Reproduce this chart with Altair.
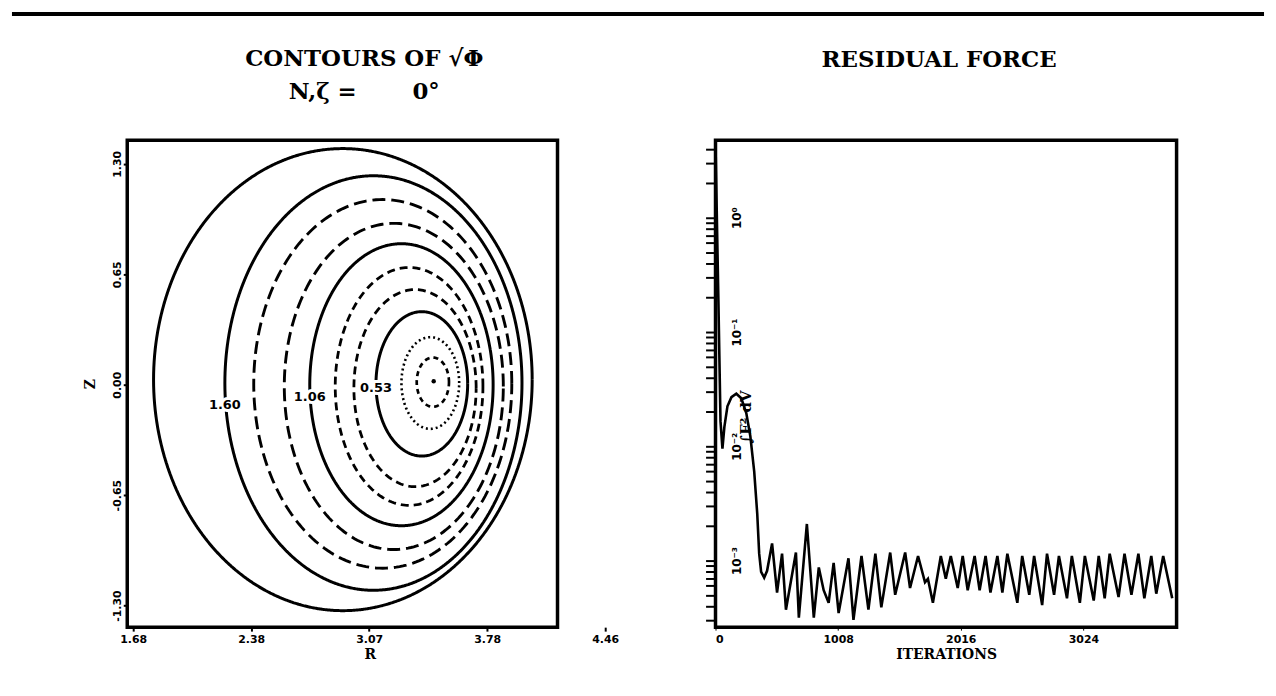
import altair as alt
import numpy as np
import pandas as pd

# ---------------- left panel: contours of sqrt(phi) ----------------
ring_level  = [1.77, 1.60, 1.42, 1.24, 1.06, 0.88, 0.71, 0.53, 0.35, 0.18]
ring_style  = ["solid", "solid", "long", "long", "solid", "medium", "medium", "solid", "dotted", "short"]
ring_left   = [1.80, 2.22, 2.39, 2.57, 2.72, 2.87, 2.98, 3.11, 3.26, 3.35]
ring_right  = [4.03, 3.97, 3.91, 3.86, 3.80, 3.74, 3.70, 3.65, 3.60, 3.54]
ring_top    = [1.39, 1.23, 1.09, 0.95, 0.83, 0.69, 0.56, 0.43, 0.28, 0.16]
ring_bottom = [-1.33, -1.21, -1.08, -0.97, -0.83, -0.71, -0.60, -0.42, -0.26, -0.13]
axis_R, axis_Z = [3.45], [0.02]
label_text = ["1.60", "1.06", "0.53"]
label_R = [2.22, 2.72, 3.11]
label_Z = [-0.12, -0.07, -0.02]

R_ticks = [1.68, 2.375, 3.07, 3.765, 4.46]
R_tick_labels = ["1.68", "2.38", "3.07", "3.78", "4.46"]
Z_ticks = [-1.30, -0.65, 0.0, 0.65, 1.30]
Z_tick_labels = ["-1.30", "-0.65", "0.00", "0.65", "1.30"]

# ---------------- right panel: residual force ----------------
iterations = [0, 24, 41, 57, 73, 98, 131, 171, 212, 253,
              286, 318, 343, 359, 375, 400, 424, 465, 506, 547,
              579, 661, 685, 751, 808, 849, 889, 930, 971, 1012,
              1093, 1134, 1200, 1257, 1314, 1363, 1436, 1477, 1559, 1599,
              1665, 1722, 1746, 1787, 1852, 1893, 1934, 1991, 2032, 2073,
              2130, 2171, 2220, 2260, 2317, 2358, 2399, 2481, 2521, 2579,
              2619, 2685, 2725, 2783, 2823, 2889, 2929, 2995, 3036, 3109,
              3150, 3199, 3240, 3313, 3362, 3419, 3476, 3525, 3582, 3623,
              3680, 3754]
log_residual = [0.65, -0.74, -1.78, -2.02, -1.83, -1.65, -1.57, -1.54, -1.58, -1.71,
                -1.91, -2.22, -2.59, -2.94, -3.10, -3.15, -3.09, -2.85, -3.28, -2.94,
                -3.43, -2.93, -3.50, -2.68, -3.50, -3.06, -3.26, -3.37, -3.02, -3.46,
                -2.98, -3.52, -2.96, -3.43, -2.94, -3.41, -2.93, -3.30, -2.93, -3.24,
                -2.96, -3.19, -3.16, -3.37, -2.96, -3.16, -2.96, -3.24, -2.96, -3.26,
                -2.96, -3.26, -2.96, -3.28, -2.96, -3.28, -2.94, -3.37, -2.96, -3.30,
                -2.96, -3.39, -2.94, -3.30, -2.96, -3.33, -2.96, -3.37, -2.96, -3.35,
                -2.96, -3.33, -2.94, -3.32, -2.94, -3.30, -2.94, -3.33, -2.96, -3.29,
                -2.96, -3.33]
iter_ticks = [0, 1008, 2016, 3024]
decades = [0, -1, -2, -3]
decade_labels = ["10\u2070", "10\u207b\u00b9", "10\u207b\u00b2", "10\u207b\u00b3"]

# ---------------- build tables ----------------
t = np.linspace(0, 2 * np.pi, 241)
rows = []
for i in range(len(ring_level)):
    rc = (ring_left[i] + ring_right[i]) / 2
    a = (ring_right[i] - ring_left[i]) / 2
    zc = (ring_top[i] + ring_bottom[i]) / 2
    b = (ring_top[i] - ring_bottom[i]) / 2
    for k, tt in enumerate(t):
        rows.append({"ring": i, "style": ring_style[i], "idx": k,
                     "R": rc + a * np.cos(tt), "Z": zc + b * np.sin(tt)})
ring_df = pd.DataFrame(rows)
lab_df = pd.DataFrame({"R": label_R, "Z": label_Z, "text": label_text})
axis_df = pd.DataFrame({"R": axis_R, "Z": axis_Z})
res_df = pd.DataFrame({"iter": iterations, "logF": log_residual})


def label_expr(values, labels):
    expr = "''"
    for v, l in zip(reversed(values), reversed(labels)):
        expr = f"abs(datum.value - ({v})) < 1e-6 ? '{l}' : ({expr})"
    return expr


TICK_FONT = "DejaVu Sans"
TITLE_FONT = "DejaVu Serif"

styles = ["solid", "long", "medium", "short", "dotted"]
dashes = [[1, 0], [13, 6], [8, 5], [5, 4], [2, 3]]
widths = [3, 2.6, 2.6, 2.4, 2.4]

LW, LH = 433, 490
RW, RH = 464, 490

# equal-aspect scale; the axis (and its last tick) runs past the framed box
xscale_L = alt.Scale(domain=[1.645, 4.466], range=[0, 482], nice=False, zero=False)
yscale_L = alt.Scale(domain=[-1.427, 1.439], nice=False, zero=False)

rings = alt.Chart(ring_df).mark_line(color="black").encode(
    x=alt.X("R:Q", scale=xscale_L, title="R",
            axis=alt.Axis(values=R_ticks, labelExpr=label_expr(R_ticks, R_tick_labels),
                          domain=False, grid=False, tickSize=4, tickWidth=2, tickColor="black",
                          labelFont=TICK_FONT, labelFontWeight="bold", labelFontSize=11,
                          labelColor="black", labelPadding=2, labelFlush=False,
                          titleFont=TITLE_FONT, titleFontWeight="bold", titleFontSize=14,
                          titleColor="black", titlePadding=4, titleX=244)),
    y=alt.Y("Z:Q", scale=yscale_L, title="Z",
            axis=alt.Axis(values=Z_ticks, labelExpr=label_expr(Z_ticks, Z_tick_labels),
                          domain=False, grid=False, tickSize=4, tickWidth=2, tickColor="black",
                          labelFont=TICK_FONT, labelFontWeight="bold", labelFontSize=11,
                          labelColor="black", labelAngle=270, labelAlign="center",
                          labelBaseline="bottom", labelPadding=1,
                          titleFont=TITLE_FONT, titleFontWeight="bold", titleFontSize=14,
                          titleColor="black", titleAngle=270, titlePadding=14)),
    detail="ring:N",
    order="idx:Q",
    strokeDash=alt.StrokeDash("style:N", scale=alt.Scale(domain=styles, range=dashes), legend=None),
    strokeWidth=alt.StrokeWidth("style:N", scale=alt.Scale(domain=styles, range=widths), legend=None),
)

lab_bg = alt.Chart(lab_df).mark_text(font=TICK_FONT, fontWeight="bold", fontSize=13,
                                     color="white", stroke="white", strokeWidth=6).encode(
    x=alt.X("R:Q", scale=xscale_L), y=alt.Y("Z:Q", scale=yscale_L), text="text:N")
lab_fg = alt.Chart(lab_df).mark_text(font=TICK_FONT, fontWeight="bold", fontSize=13,
                                     color="black").encode(
    x=alt.X("R:Q", scale=xscale_L), y=alt.Y("Z:Q", scale=yscale_L), text="text:N")
axis_pt = alt.Chart(axis_df).mark_point(filled=True, color="black", size=20, opacity=1).encode(
    x=alt.X("R:Q", scale=xscale_L), y=alt.Y("Z:Q", scale=yscale_L))
page_top = alt.Chart(axis_df).mark_rule(color="black", strokeWidth=4).encode(
    x=alt.value(-116), x2=alt.value(1144), y=alt.value(-127))

left = alt.layer(rings, lab_bg, lab_fg, axis_pt, page_top).properties(
    width=LW, height=LH,
    title=alt.TitleParams(["CONTOURS OF \u221a\u03a6", "N,\u03b6 =\u00a0\u00a0\u00a0\u00a0\u00a0\u00a0 0\u00b0"],
                          font=TITLE_FONT, fontWeight="bold", fontSize=23, color="black",
                          anchor="middle", frame="group", offset=-92, lineHeight=33, dx=22),
)

# right panel
minor_vals = []
for k in range(-4, 1):
    for m in range(1, 10):
        v = k + np.log10(m)
        if -3.583 <= v <= 0.678:
            minor_vals.append(round(float(v), 6))

res = alt.Chart(res_df).mark_line(color="black", strokeWidth=2.6, clip=True).encode(
    x=alt.X("iter:Q", scale=alt.Scale(domain=[0, 3790], nice=False, zero=False), title="ITERATIONS",
            axis=alt.Axis(values=iter_ticks, format="d", domain=False, grid=False, tickSize=3,
                          tickColor="black", labelFont=TICK_FONT, labelFontWeight="bold",
                          labelFontSize=11, labelColor="black", labelPadding=3,
                          titleFont=TITLE_FONT, titleFontWeight="bold", titleFontSize=14,
                          titleColor="black", titlePadding=4)),
    y=alt.Y("logF:Q", scale=alt.Scale(domain=[-3.583, 0.678], nice=False, zero=False),
            title="\u222bF\u00b2 dV",
            axis=alt.Axis(values=minor_vals, labelExpr=label_expr(decades, decade_labels),
                          domain=False, grid=False, tickSize=10, tickWidth=2, tickColor="black",
                          labelFont=TICK_FONT, labelFontWeight="bold", labelFontSize=12,
                          labelColor="black", labelAngle=270, labelAlign="center",
                          labelBaseline="middle", labelPadding=-31, labelOverlap=False,
                          titleFont=TITLE_FONT, titleFontWeight="bold", titleFontSize=15,
                          titleColor="black", titleAngle=270, titleX=30, titleY=278,
                          titleAlign="center", titleBaseline="middle")),
)

right = res.properties(
    width=RW, height=RH,
    title=alt.TitleParams("RESIDUAL FORCE", font=TITLE_FONT, fontWeight="bold", fontSize=23,
                          color="black", anchor="middle", frame="group", offset=69, dx=-7),
)

chart = alt.hconcat(left, right, spacing=159, bounds="flush").properties(
    padding=0, background="white",
).configure_view(stroke="black", strokeWidth=3.5)

chart.save("out.html", embed_options={"renderer": "svg", "actions": False})
